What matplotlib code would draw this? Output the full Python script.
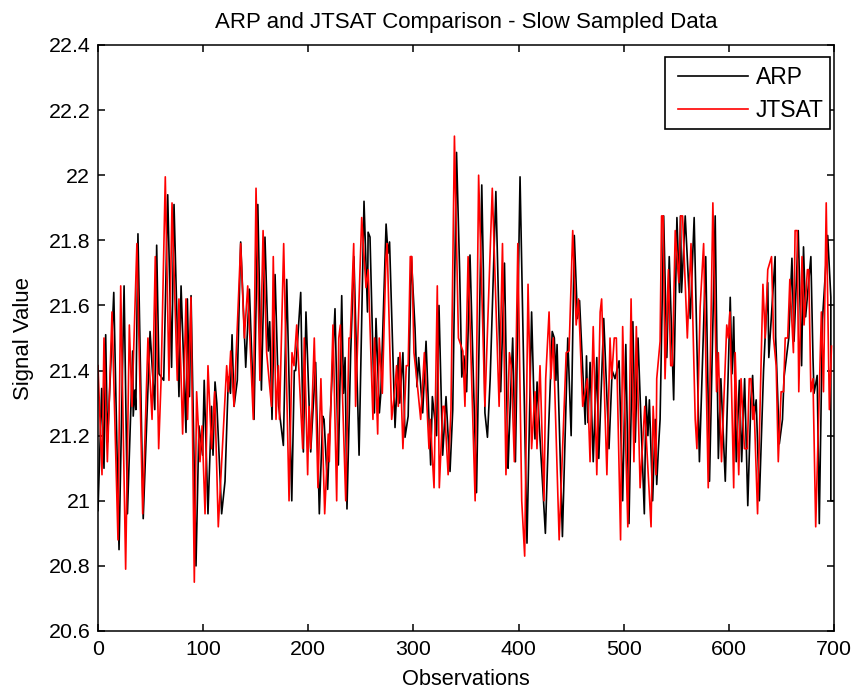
import matplotlib
matplotlib.use("Agg")
import matplotlib.pyplot as plt
from matplotlib.patches import Rectangle

arp_points = [
    (0, 20.97), (3.5, 21.345), (5.7, 21.1), (7.3, 21.51), (9, 21.18), (13, 21.48), (15, 21.64), (20, 20.85),
    (24.8, 21.66), (28, 20.96), (33, 21.46), (33.5, 21.26), (35, 21.34), (36, 21.28), (38, 21.82), (43, 20.945),
    (49.5, 21.52), (54, 21.28), (55.8, 21.785), (58, 21.39), (62.5, 21.37), (66.3, 21.94), (70, 21.41),
    (72.3, 21.91), (77, 21.32), (79, 21.66), (83.7, 21.21), (85, 21.62), (87, 21.32), (88.5, 21.63),
    (93.2, 20.8), (96, 21.23), (99.5, 21.14), (101, 21.37), (104.6, 20.96), (108, 21.29), (109.4, 21.14),
    (111.3, 21.365), (113, 21.3), (117.6, 20.96), (120.8, 21.06), (124, 21.38), (126, 21.33), (127.5, 21.51),
    (129.4, 21.29), (132.5, 21.37), (135.7, 21.795), (140.5, 21.41), (144, 21.65), (148.4, 21.25),
    (152, 21.91), (155.4, 21.34), (158.8, 21.81), (162, 21.46), (163.3, 21.55), (165.5, 21.25), (168.4, 21.695),
    (171.9, 21.29), (176.3, 21.17), (179.5, 21.68), (184.3, 21.0), (186.7, 21.4), (188, 21.4), (192.8, 21.64),
    (195.3, 21.15), (197.8, 21.58), (202.3, 21.15), (207, 21.425), (210.5, 20.96), (213.7, 21.26), (215, 21.25),
    (218.4, 21.035), (220.7, 21.24), (225.4, 21.59), (228.6, 21.11), (231.8, 21.63), (233.5, 21.33), (235, 21.44),
    (236.8, 20.975), (240.3, 21.45), (243.4, 21.75), (248.3, 21.14), (253, 21.92), (256.3, 21.58), (256.9, 21.825),
    (258.7, 21.81), (262.9, 21.27), (264.4, 21.56), (267.6, 21.27), (269, 21.33), (274, 21.85), (275.8, 21.76),
    (277.3, 21.795), (282.5, 21.225), (285.6, 21.44), (287, 21.3), (290, 21.455), (292, 21.195), (295, 21.26),
    (298, 21.75), (301.5, 21.53), (303.4, 21.35), (305, 21.44), (308.8, 21.27), (312, 21.49), (316.4, 21.11),
    (318, 21.32), (322, 21.2), (324.3, 21.6), (327.8, 21.14), (331, 21.32), (334.8, 21.09), (337.4, 21.28),
    (341, 22.07), (344, 21.7), (346, 21.38), (348, 21.445), (350.6, 21.335), (353.8, 21.755), (360, 21.025),
    (365, 21.97), (366.5, 21.71), (368, 21.27), (370.4, 21.195), (373, 21.375), (378.4, 21.95), (383, 21.335),
    (386.6, 21.73), (390, 21.1), (391, 21.195), (394.4, 21.5), (397, 21.12), (401.4, 21.995), (408, 20.87),
    (412.4, 21.58), (415.6, 21.19), (417.6, 21.365), (420.4, 21.19), (425.5, 20.9), (428.6, 21.225), (432, 21.52),
    (434, 21.5), (435.5, 21.37), (436.6, 21.48), (441.7, 20.89), (446.8, 21.5), (450, 21.2), (453, 21.815),
    (456, 21.56), (458, 21.615), (463.4, 21.235), (464.6, 21.445), (466, 21.24), (468, 21.425), (471, 21.12),
    (474.4, 21.44), (476.3, 21.13), (481, 21.56), (486, 21.16), (489, 21.4), (491.7, 21.375), (495.6, 21.43),
    (499, 21.0), (502, 21.48), (505, 20.93), (508.7, 21.55), (511, 21.18), (513.6, 21.5), (519.6, 20.96),
    (521.2, 21.32), (523, 21.2), (524.4, 21.31), (527.5, 21.0), (530, 21.25), (531.4, 21.05), (533, 21.16),
    (534.6, 21.25), (536, 21.5), (538, 21.875), (541, 21.44), (543.3, 21.75), (547.5, 21.31), (550.6, 21.87),
    (553, 21.64), (554, 21.875), (555, 21.64), (558.5, 21.875), (563.3, 21.56), (567, 21.87), (572, 21.12),
    (575, 21.44), (578, 21.75), (581.6, 21.06), (587, 21.875), (590, 21.13), (592.4, 21.375), (596.6, 21.06),
    (601.3, 21.625), (603, 21.39), (604.6, 21.565), (607, 21.12), (610, 21.37), (612.2, 21.12), (615, 21.375),
    (618, 20.985), (621, 21.31), (622.6, 21.385), (624, 21.26), (626, 21.31), (629, 21.0), (633, 21.4),
    (637, 21.67), (638, 21.44), (644, 21.75), (644.5, 21.505), (648, 21.175), (651, 21.25), (652.5, 21.38),
    (657, 21.5), (660, 21.745), (662, 21.49), (666, 21.83), (669.2, 21.415), (671, 21.78), (673, 21.565),
    (678, 21.75), (680, 21.44), (681, 21.33), (684, 21.385), (686, 20.93), (689, 21.555), (694, 21.815),
    (697, 21.625), (697, 21.0), (700, 21.0),
]

jtsat_points = [
    (0, 21.415), (3.8, 21.08), (5.7, 21.5), (8.9, 21.12), (13.3, 21.58), (19, 20.88), (21.6, 21.66), (26.3, 20.79),
    (29.8, 21.54), (32.3, 21.29), (37, 21.79), (42.5, 20.96), (47.5, 21.5), (51.4, 21.25), (54.5, 21.75),
    (57.7, 21.16), (60, 21.37), (64, 21.995), (67.5, 21.37), (70.4, 21.915), (75.4, 21.37), (77, 21.62),
    (80.5, 21.205), (83.7, 21.62), (85.2, 21.25), (88.4, 21.625), (91.6, 20.75), (93.8, 21.335), (97, 21.12),
    (99, 21.23), (101.8, 20.96), (104.6, 21.415), (108, 21.16), (111, 21.335), (114.4, 20.92), (122.4, 21.415),
    (124, 21.335), (126.2, 21.46), (129.4, 21.29), (135.7, 21.79), (139.2, 21.5), (142.4, 21.66), (147.7, 21.25),
    (150.3, 21.96), (154, 21.37), (157, 21.83), (160.4, 21.455), (165, 21.29), (166.7, 21.75), (169.3, 21.25),
    (171.5, 21.415), (172.6, 21.25), (176.6, 21.79), (181.7, 21.0), (184.5, 21.455), (186.4, 21.415), (189, 21.54),
    (194.7, 21.16), (196.2, 21.5), (199.4, 21.08), (200.7, 21.29), (202.3, 21.16), (205.7, 21.5), (209.2, 21.04),
    (212, 21.375), (215.6, 20.96), (219, 21.205), (220, 21.12), (223.5, 21.54), (227, 21.0), (229, 21.5),
    (230.5, 21.54), (235.6, 21.0), (238.7, 21.5), (240, 21.5), (243.2, 21.79), (245, 21.29), (250.8, 21.87),
    (254.9, 21.655), (257, 21.71), (261.5, 21.25), (263, 21.5), (266, 21.205), (267.5, 21.5), (270.4, 21.33),
    (273.9, 21.75), (275, 21.79), (279.3, 21.25), (282, 21.33), (284, 21.415), (285.6, 21.29), (287.2, 21.455),
    (290, 21.16), (293.2, 21.415), (295, 21.415), (297, 21.75), (298.5, 21.75), (300.5, 21.455), (303, 21.38),
    (306.9, 21.25), (310.4, 21.455), (314.8, 21.16), (316, 21.25), (319.6, 21.04), (322.7, 21.66), (324.6, 21.04),
    (328, 21.29), (329.5, 21.29), (333, 21.08), (335.7, 21.28), (339, 22.12), (342.8, 21.5), (347, 21.46),
    (349, 21.29), (352, 21.75), (358.7, 21.0), (362, 22.0), (368, 21.29), (375, 21.96), (381.5, 21.29),
    (384.7, 21.79), (388, 21.08), (391.3, 21.455), (393, 21.415), (396, 21.12), (399.3, 21.79), (403, 21.0),
    (405.8, 20.83), (409, 21.665), (412.4, 21.16), (415.6, 21.335), (417.5, 21.16), (420.4, 21.415), (424.2, 21.0),
    (425.8, 21.375), (429, 21.58), (430.7, 21.375), (433, 21.5), (438.6, 20.88), (445.3, 21.455), (448, 21.46),
    (451.5, 21.83), (454.8, 21.54), (457, 21.62), (461, 21.29), (465.4, 21.375), (468, 21.12), (471, 21.535),
    (474.4, 21.08), (477.6, 21.58), (479, 21.62), (484, 21.08), (487, 21.5), (488.5, 21.375), (491, 21.5),
    (493, 21.5), (497, 20.88), (499, 21.535), (503.9, 20.92), (507, 21.62), (509.7, 21.12), (512, 21.535),
    (515.6, 21.04), (520, 21.29), (522, 21.16), (526, 20.92), (528, 21.29), (530.7, 21.08), (531.4, 21.375),
    (534.6, 21.49), (536, 21.875), (537.5, 21.875), (539.3, 21.375), (542.5, 21.71), (544.7, 21.415), (546.3, 21.415),
    (549, 21.83), (552.4, 21.67), (554.2, 21.875), (556, 21.875), (560.5, 21.5), (564, 21.79), (568, 21.25),
    (569.6, 21.16), (572.7, 21.595), (576, 21.79), (580.4, 21.04), (584.8, 21.915), (588.3, 21.335), (590, 21.455),
    (593, 21.12), (598, 21.54), (599.5, 21.5), (601, 21.58), (604.6, 21.04), (606, 21.455), (609.4, 21.08),
    (611.6, 21.375), (614.8, 21.16), (617.6, 21.16), (619.4, 21.375), (621, 21.375), (622.8, 21.25), (624, 21.29),
    (627.3, 20.96), (632.4, 21.665), (634.6, 21.5), (637, 21.71), (640.6, 21.75), (642.5, 21.5), (645, 21.415),
    (647, 21.12), (649.7, 21.335), (652, 21.335), (653.6, 21.5), (656, 21.5), (658, 21.68), (661.4, 21.455),
    (663, 21.83), (665, 21.83), (666.5, 21.335), (669.6, 21.75), (671.5, 21.54), (674.7, 21.71), (676, 21.71),
    (678, 21.335), (680, 21.375), (682.6, 20.92), (688, 21.58), (690, 21.335), (692.6, 21.915), (695.6, 21.28),
    (697.6, 21.475),
]

x_ticks = [0, 100, 200, 300, 400, 500, 600, 700]
y_ticks = [20.6, 20.8, 21, 21.2, 21.4, 21.6, 21.8, 22, 22.2, 22.4]
y_tick_labels = ["20.6", "20.8", "21", "21.2", "21.4", "21.6", "21.8", "22", "22.2", "22.4"]

plt.rcParams['font.family'] = ['Liberation Sans', 'DejaVu Sans']

W, H = 861, 691
fig = plt.figure(figsize=(W / 100, H / 100), dpi=100)
ax = fig.add_axes([98 / W, 1 - 631 / H, (834 - 98) / W, (631 - 45) / H])

arp_obs, arp_val = zip(*arp_points)
jtsat_obs, jtsat_val = zip(*jtsat_points)
ax.plot(arp_obs, arp_val, color="black", linewidth=1.2, label="ARP")
ax.plot(jtsat_obs, jtsat_val, color="red", linewidth=1.2, label="JTSAT")

ax.set_xlim(0, 700)
ax.set_ylim(20.6, 22.4)
ax.set_xticks(x_ticks)
ax.set_yticks(y_ticks)
ax.set_yticklabels(y_tick_labels)
ax.tick_params(direction="in", top=True, right=True, length=5, width=1.1, labelsize=15.4)
ax.tick_params(axis="x", pad=6.5)
ax.tick_params(axis="y", pad=5.5)
for spine in ax.spines.values():
    spine.set_linewidth(1.1)

ax.set_title("ARP and JTSAT Comparison - Slow Sampled Data", fontsize=16, pad=12)
ax.set_xlabel("Observations", fontsize=15.7, labelpad=7.4)
ax.set_ylabel("Signal Value", fontsize=15.9, labelpad=10.5)

# legend box drawn by hand, the text sits closer to its right edge than to the left
box = Rectangle((665 / W, 1 - 129 / H), 165 / W, 72 / H, transform=fig.transFigure,
                facecolor="white", edgecolor="black", linewidth=1.2, zorder=4)
ax.add_patch(box)
leg = ax.legend(loc="upper left", bbox_to_anchor=(678 / W, 1 - 65.6 / H), bbox_transform=fig.transFigure,
                borderaxespad=0, frameon=False, fontsize=16.5, handlelength=3.05,
                handletextpad=0.35, labelspacing=0.44, borderpad=0)
leg.set_zorder(5)

fig.savefig("out.png", dpi=100)
